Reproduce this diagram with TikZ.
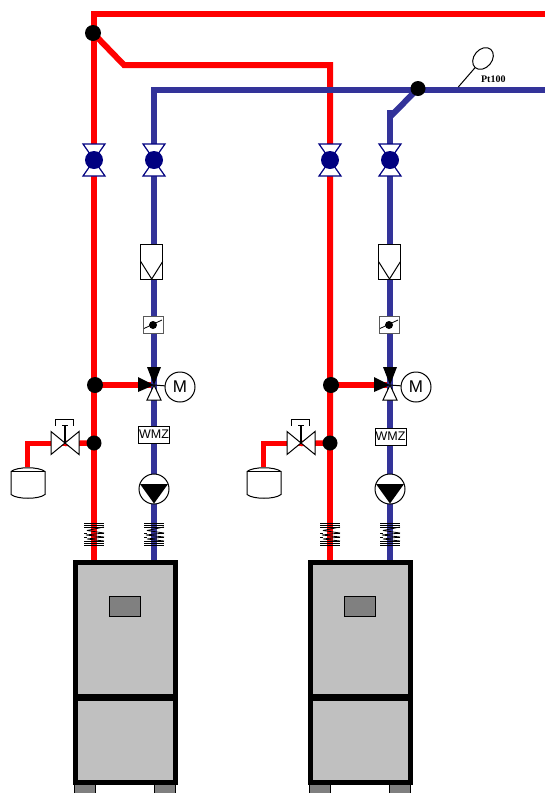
\documentclass[tikz,border=0pt]{standalone}
\usepackage{fontspec}
\setmainfont{Liberation Sans}
\newfontfamily\ptfont{Liberation Serif}
\usetikzlibrary{backgrounds,shapes.geometric}
\definecolor{pipered}{HTML}{FF0000}
\definecolor{pipeblue}{HTML}{333399}
\definecolor{valvenavy}{HTML}{000080}
\definecolor{boilergrey}{HTML}{C0C0C0}
\definecolor{panelgrey}{HTML}{808080}
\tikzset{
  hot/.style={draw=pipered,line width=6pt,line join=miter},
  hotthin/.style={draw=pipered,line width=5.5pt,line join=miter},
  cold/.style={draw=pipeblue,line width=6pt,line join=miter},
  junction/.style={circle,fill=black,inner sep=0pt,outer sep=0pt,minimum size=#1},
  symline/.style={draw=black,line width=1pt},
  gatevalve/.pic={
    \draw[draw=valvenavy,line width=1.2pt,fill=white,line join=miter]
      (-11,-16) -- (11,-16) -- (4,-6) -- (-4,-6) -- cycle
      (-11,16) -- (11,16) -- (4,6) -- (-4,6) -- cycle;
    \fill[valvenavy] (0,0) circle[radius=9];
  },
  filterbox/.pic={
    \draw[symline,fill=white] (-11,-17.5) rectangle (11,17.5);
    \draw[symline] (-11,0) -- (0,17.5) -- (11,0);
  },
  checkbox/.pic={
    \draw[draw=black!65,line width=1pt,fill=white] (-10,-8.5) rectangle (10,8.5);
    \draw[line width=.8pt] (-9,3.5) -- (9,-5);
    \fill (0,0) circle[radius=4];
  },
  threeway/.pic={
    \fill (-7,-18) -- (7,-18) -- (0,0) -- cycle;
    \fill (-16,-8) -- (-16,7) -- (0,0) -- cycle;
    \draw[symline,fill=white,line join=miter] (0,0) -- (7,15) -- (-7,15) -- cycle;
  },
  pumpsym/.pic={
    \draw[symline,fill=white] (0,0) circle[radius=15];
    \fill (-14,-5) -- (14,-5) -- (0,14.5) -- cycle;
  },
  coil/.pic={
    \draw[line width=.8pt]
      (-10,-11) -- (10,-11) (-10,-9) -- (10,-9) (-10,-7) -- (10,-7)
      (-10,7) -- (10,7) (-10,9) -- (10,9) (-10,11) -- (10,11)
      (-10,-1) -- (-7,-1) (7,-1) -- (10,-1) (-10,3) -- (-7,3) (7,3) -- (10,3);
    \draw[line width=.8pt,line join=bevel]
      (10,-7) -- (-7,-3.5) -- (10,-1) -- (-8,1) -- (10,3) -- (-7,5) -- (10,7);
  },
  expvalve/.pic={
    \draw[symline,fill=white,line join=miter] (-14,-12) -- (-14,11) -- (14,-12) -- (14,11) -- cycle;
    \draw[line width=1.2pt] (0,0) -- (0,-19);
    \draw[line width=1pt] (-3,-18.5) -- (3,-18.5);
    \draw[line width=.8pt] (-10,-18) -- (-10,-24) -- (8,-24) -- (8,-18);
  },
  tanksym/.pic={
    \draw[symline,fill=white]
      (-17,5) .. controls (-11,0) and (11,0) .. (17,5) -- (17,28)
      .. controls (11,33) and (-11,33) .. (-17,28) -- cycle;
    \draw[symline] (-17,5) -- (17,5);
  },
  footbox/.style={draw=black,line width=.7pt,fill=panelgrey,inner sep=0pt,outer sep=0pt,minimum width=21pt,minimum height=9pt},
  boilerbox/.style={draw=black,line width=5pt,fill=boilergrey,inner sep=0pt,outer sep=0pt,minimum width=100pt,minimum height=220pt},
  panelbox/.style={draw=black,line width=1pt,fill=panelgrey,inner sep=0pt,outer sep=0pt,minimum width=31pt,minimum height=20pt},
  motorbox/.style={circle,draw=black,line width=1pt,fill=white,inner sep=0pt,outer sep=0pt,minimum size=30pt,font=\fontsize{17}{17}\selectfont},
  meterbox/.style={draw=black,line width=.9pt,fill=white,inner sep=0pt,outer sep=0pt,minimum width=31pt,minimum height=17pt,font=\fontsize{12.5}{12.5}\selectfont},
}
\begin{document}
\begin{tikzpicture}[x=1pt,y=-1pt]
\useasboundingbox (0,0) rectangle (545,793);
\coordinate (redstart) at (94,14);
\coordinate (redend) at (545,14);
\coordinate (blueend) at (545,89.5);
\coordinate (bluecorner) at (154,89.5);
\coordinate (bend1) at (124,65);
\coordinate (bend2) at (390,117);
\coordinate (sensorfoot) at (458.3,87);
\node[junction=16pt] (jtop) at (93,33) {};
\node[junction=15pt] (jblue) at (418,88.5) {};
\node[draw=black,line width=1pt,ellipse,inner sep=0pt,outer sep=0pt,minimum width=24pt,minimum height=18pt,rotate=50] (sensor) at (483,58.5) {};
\node[font=\ptfont\bfseries\fontsize{10}{10}\selectfont,inner sep=0pt] (ptlabel) at (493.3,79.7) {Pt100};
\foreach \u/\r/\b/\fx/\cx/\wy/\wx/\bo/\ex in {a/94/154/151.7/153/434.5/154/0/0, b/330/390/389.5/389/436.5/390.5/235/236}{
  \node[junction=16pt] (\u-j1) at ({\r+1},385) {};
  \node[junction=15pt] (\u-j2) at (\r,443) {};
  \coordinate (\u-mix) at (\b,385);
  \coordinate (\u-btop) at (\b,110);
  \coordinate (\u-rtop) at (\r,65);
  \node[motorbox] (\u-mot) at ({\b+26},387) {M};
  \node[meterbox] (\u-wmz) at (\wx,\wy) {WMZ};
  \node[footbox,anchor=north] (\u-foot1) at ({\bo+85},784) {};
  \node[footbox,anchor=north] (\u-foot2) at ({\bo+165},784) {};
  \node[boilerbox] (\u-boiler) at ({\bo+125},672) {};
  \node[panelbox] (\u-panel) at ({\bo+125.2},606) {};
  \coordinate (\u-ev) at ({\ex+65},443.5);
  \coordinate (\u-tank) at ({\ex+27.5},467);
  \draw[line width=7pt] (\u-boiler.west |- 0,697) -- (\u-boiler.east |- 0,697);
  \begin{scope}[on background layer]
    \draw[hot] (\u-j2.center) -- (\u-j2 |- \u-boiler.north);
    \draw[hotthin] (\u-j1.center) -- (\u-mix);
    \draw[hotthin] (\u-j2.center) -- (\u-ev);
    \draw[hotthin] (\u-ev) -| (\u-tank);
    \draw[cold] (\u-btop) -- (\u-btop |- \u-boiler.north);
  \end{scope}
  \draw[symline] (\u-mix) -- (\u-mot);
  \pic at (\r,160) {gatevalve};
  \pic at (\b,160) {gatevalve};
  \pic at (\fx,261.5) {filterbox};
  \pic at (\cx,325) {checkbox};
  \pic at (\u-mix) {threeway};
  \pic at (\b,489) {pumpsym};
  \pic at (\r,534) {coil};
  \pic at (\b,534) {coil};
  \pic at (\u-ev) {expvalve};
  \pic at ({\ex+28},466.5) {tanksym};
}
\begin{scope}[on background layer]
  \draw[hot] (redend) -- (redstart) -- (a-j2.center);
  \draw[hot] (jtop.center) -- (bend1) -- (b-rtop) -- (b-j2.center);
  \draw[cold] (blueend) -- (bluecorner) -- (a-btop);
  \draw[cold] (jblue.center) -- (bend2) -- (b-btop);
\end{scope}
\draw[line width=1pt] (sensorfoot) -- (sensor);
\end{tikzpicture}
\end{document}
